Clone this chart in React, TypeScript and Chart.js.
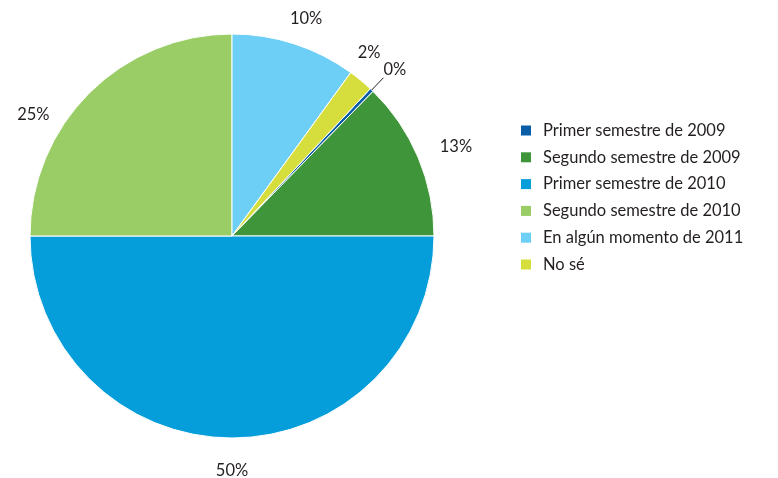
import React, { useEffect, useRef } from "react";
import { Chart, registerables } from "chart.js";

Chart.register(...registerables);

const categories = [
  "Primer semestre de 2009",
  "Segundo semestre de 2009",
  "Primer semestre de 2010",
  "Segundo semestre de 2010",
  "En algún momento de 2011",
  "No sé",
];
const values = [0.3, 12.7, 50, 25, 10, 2];
const valueLabels = ["0%", "13%", "50%", "25%", "10%", "2%"];
const colors = ["#0a5ea8", "#3f9539", "#069ddb", "#9bcd66", "#6dcff6", "#d5de3c"];
// label placement: angular nudge (deg) and radial distance beyond centre
const labelNudge = [0.6, 1.2, 0, -13.5, 0.8, -2.8];
const labelDist = [233, 241, 235, 233, 230, 229];
const leaderLine = [true, false, false, false, false, false];

const FONT = "16.5px Lato, 'Open Sans', sans-serif";
const TEXT = "#231f20";

const labelPlugin = {
  id: "pieLabels",
  afterDraw(chart: any) {
    const ctx = chart.ctx;
    const meta = chart.getDatasetMeta(0);
    ctx.save();
    ctx.font = FONT;
    ctx.fillStyle = TEXT;
    ctx.textAlign = "center";
    ctx.textBaseline = "middle";
    meta.data.forEach((arc: any, i: number) => {
      const { x, y, startAngle, endAngle, outerRadius } = arc.getProps(
        ["x", "y", "startAngle", "endAngle", "outerRadius"],
        true
      );
      const mid = (startAngle + endAngle) / 2;
      const a = mid + (labelNudge[i] * Math.PI) / 180;
      const d = labelDist[i];
      if (leaderLine[i]) {
        ctx.strokeStyle = "#231f20";
        ctx.lineWidth = 1;
        ctx.beginPath();
        ctx.moveTo(x + Math.cos(mid) * outerRadius, y + Math.sin(mid) * outerRadius);
        ctx.lineTo(x + Math.cos(mid) * (outerRadius + 17), y + Math.sin(mid) * (outerRadius + 17));
        ctx.stroke();
      }
      ctx.fillText(valueLabels[i], x + Math.cos(a) * d, y + Math.sin(a) * d);
    });
    // legend
    const lx = 521;
    const ly = 130.5;
    const step = 26.8;
    ctx.textAlign = "left";
    categories.forEach((c, i) => {
      ctx.fillStyle = colors[i];
      ctx.fillRect(lx, ly + i * step - 5, 10, 10);
      ctx.fillStyle = TEXT;
      ctx.fillText(c, lx + 22, ly + i * step);
    });
    ctx.restore();
  },
};

export default function App() {
  const ref = useRef<HTMLCanvasElement>(null);
  useEffect(() => {
    if (!ref.current) return;
    const chart = new Chart(ref.current, {
      type: "pie",
      data: {
        labels: categories,
        datasets: [
          {
            data: values,
            backgroundColor: colors,
            borderColor: "#ffffff",
            borderWidth: 1,
            radius: 202,
          },
        ],
      },
      options: {
        animation: false,
        responsive: false,
        rotation: 43.2,
        layout: { padding: { left: 30, top: 34, right: 344, bottom: 40 } },
        plugins: { legend: { display: false }, tooltip: { enabled: false } },
      },
      plugins: [labelPlugin],
    });
    return () => chart.destroy();
  }, []);
  return (
    <div style={{ position: "absolute", left: 0, top: 0, width: 778, height: 478, background: "#fff" }}>
      <canvas ref={ref} width={778} height={478} style={{ width: 778, height: 478 }} />
    </div>
  );
}
